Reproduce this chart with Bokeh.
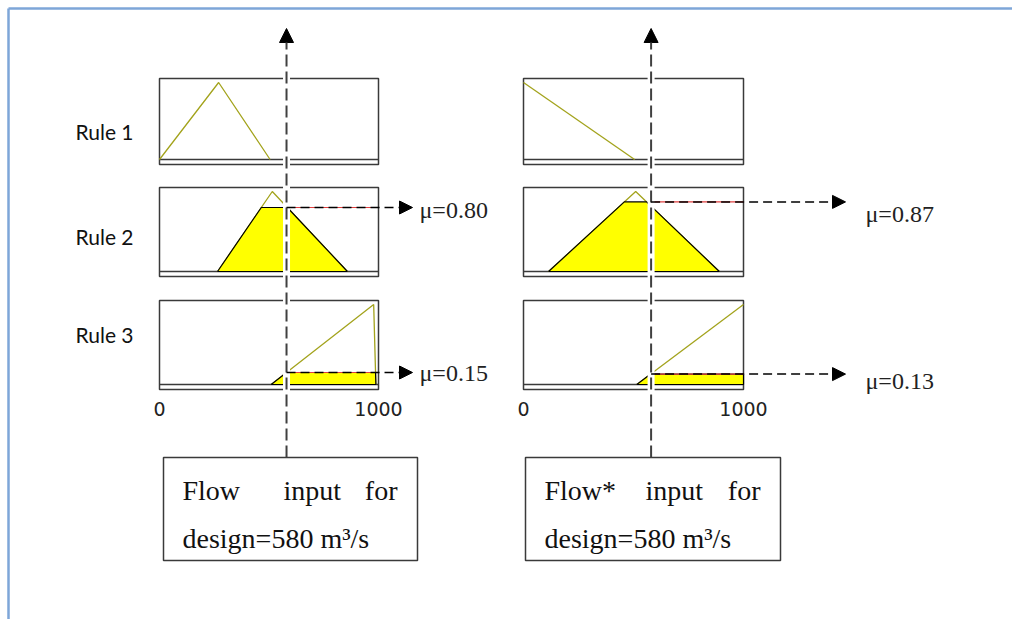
from bokeh.plotting import figure
from bokeh.models import Range1d, Arrow, NormalHead
from bokeh.core.properties import value
from bokeh.embed import file_html
from bokeh.resources import INLINE

# ---- data -------------------------------------------------------------
rule_names = ["Rule 1", "Rule 2", "Rule 3"]
input_flow = 580                      # m3/s, same crisp input for both variables
universe_ticks = [0, 1000]
tick_labels = ["0", "1000"]

# membership functions (breakpoints on the 0..1000 universe, degree)
flow_mf_x = [[0, 270, 505], [265, 515, 858], [510, 978, 988]]
flow_mf_y = [[0, 1, 0], [0, 1, 0], [0, 1, 0]]
flow_star_mf_x = [[0, 505], [114, 510, 890], [515, 1000]]
flow_star_mf_y = [[1, 0], [0, 1, 0], [0, 1]]

# firing degrees of the input for each rule (rule 1 does not fire)
flow_mu = [None, 0.80, 0.15]
flow_star_mu = [None, 0.87, 0.13]

box_caption_words = [["Flow", "input", "for"], ["Flow*", "input", "for"]]
box_caption_line2 = "design=580 m\u00b3/s"

# ---- layout -----------------------------------------------------------
W, H = 1012, 619
COLS = [(159, 378), (523, 743)]           # panel left/right edges (px)
ROW_TOP = [78, 187, 300]
ROW_BASE = [159, 271, 384]
ROW_BOTTOM = [164, 276, 389]
ONE_OFFSET = 4                             # degree 1 sits just under the top edge
ARROW_TIP = [412, 845]
MU_LABEL_X = [419, 865]
MU_LABEL_Y = [[None, 209, 372], [None, 213, 380]]
VARROW_TOP, VARROW_BOTTOM = 28, 457
BOXES = [(163, 417), (525, 780)]
BOX_TOP, BOX_BOTTOM = 457, 560

OLIVE = "#a3a31c"
EDGE = "#3a3a3a"

p = figure(width=W, height=H, x_range=Range1d(0, W), y_range=Range1d(H, 0),
           x_axis_type=None, y_axis_type=None, output_backend="svg",
           toolbar_location=None, min_border=0)
p.grid.visible = False
p.outline_line_color = None
p.background_fill_color = "white"

# one x range per column (universe 0..1000) and one y range per row (degree 0..1)
for c, (x0, x1) in enumerate(COLS):
    k = (x1 - x0) / 1000.0
    s = -x0 / k
    p.extra_x_ranges[f"u{c}"] = Range1d(s, s + W / k)
for r in range(3):
    base = ROW_BASE[r]
    k = base - (ROW_TOP[r] + ONE_OFFSET)
    p.extra_y_ranges[f"m{r}"] = Range1d((base - H) / k, base / k)


def px_to_u(c, px):
    x0, x1 = COLS[c]
    return (px - x0) / (x1 - x0) * 1000.0


def clip_polygon(xs, ys, level):
    """Polygon of min(mf, level) closed along degree 0."""
    px, py = [xs[0]], [0]
    for i in range(len(xs) - 1):
        xa, ya, xb, yb = xs[i], ys[i], xs[i + 1], ys[i + 1]
        px.append(xa); py.append(min(ya, level))
        if (ya - level) * (yb - level) < 0:
            px.append(xa + (level - ya) * (xb - xa) / (yb - ya)); py.append(level)
    px.append(xs[-1]); py.append(min(ys[-1], level))
    px.append(xs[-1]); py.append(0)
    return px, py


# outer frame
p.segment(x0=[8, 8], y0=[8, 8], x1=[8, W], y1=[H, 8], line_color="#7ea6d8", line_width=2.5)

# rule labels
p.text(x=[75] * 3, y=[131, 236, 334], text=rule_names, text_font=value("Lato"),
       text_font_size="21px", text_baseline="middle", text_color="#111111")

all_x = [flow_mf_x, flow_star_mf_x]
all_y = [flow_mf_y, flow_star_mf_y]
all_mu = [flow_mu, flow_star_mu]

for c, (x0, x1) in enumerate(COLS):
    xr = f"u{c}"
    for r in range(3):
        yr = f"m{r}"
        # panel frame and zero line
        p.quad(left=x0, right=x1, top=ROW_TOP[r], bottom=ROW_BOTTOM[r],
               fill_color="white", line_color=EDGE, line_width=1.5)
        p.segment(x0=x0, x1=x1, y0=ROW_BASE[r], y1=ROW_BASE[r], line_color=EDGE, line_width=1.5)
        xs, ys = all_x[c][r], all_y[c][r]
        p.line(xs, ys, x_range_name=xr, y_range_name=yr, line_color=OLIVE, line_width=1.3)
        mu = all_mu[c][r]
        if mu is not None:
            fx, fy = clip_polygon(xs, ys, mu)
            p.patch(fx, fy, x_range_name=xr, y_range_name=yr, fill_color="#ffff00",
                    line_color="black", line_width=1.2)
            p.line([input_flow, 1000], [mu, mu], x_range_name=xr, y_range_name=yr,
                   line_color="#e04040", line_width=1.2)

    # tick labels under the last row
    p.text(x=universe_ticks, y=[ROW_BOTTOM[2] + 19] * 2, text=tick_labels, x_range_name=xr,
           text_font=value("DejaVu Sans"), text_font_size="19px", text_align="center",
           text_baseline="middle", text_color="#222222")

    # vertical input marker
    p.segment(x0=input_flow, x1=input_flow, y0=VARROW_TOP + 14, y1=VARROW_BOTTOM,
              x_range_name=xr, line_color="white", line_width=7)
    p.add_layout(Arrow(end=NormalHead(size=14, fill_color="black", line_color="black", line_width=1),
                       x_start=input_flow, x_end=input_flow, y_start=VARROW_BOTTOM, y_end=VARROW_TOP,
                       x_range_name=xr, line_color="#404040", line_width=2, line_dash="12 5"))

    # horizontal degree arrows and labels
    for r in range(3):
        mu = all_mu[c][r]
        if mu is None:
            continue
        p.add_layout(Arrow(end=NormalHead(size=13, fill_color="black", line_color="black", line_width=1),
                           x_start=input_flow, x_end=px_to_u(c, ARROW_TIP[c]), y_start=mu, y_end=mu,
                           x_range_name=xr, y_range_name=f"m{r}",
                           line_color="black", line_width=1.5, line_dash="9 5"))
        p.text(x=[MU_LABEL_X[c]], y=[MU_LABEL_Y[c][r]], text=[f"\u03bc={mu:.2f}"],
               text_font=value("Liberation Serif"), text_font_size="24px",
               text_baseline="middle", text_color="#222222")

    # caption box
    bx0, bx1 = BOXES[c]
    p.quad(left=bx0, right=bx1, top=BOX_TOP, bottom=BOX_BOTTOM, fill_color="white",
           line_color=EDGE, line_width=1.5)
    words = box_caption_words[c]
    p.text(x=[bx0 + 19, bx0 + 120, bx1 - 20], y=[490] * 3, text=words,
           text_align=["left", "left", "right"], text_font=value("Liberation Serif"),
           text_font_size="28px", text_baseline="alphabetic", text_color="#111111")
    p.text(x=[bx0 + 19], y=[538], text=[box_caption_line2], text_font=value("Liberation Serif"),
           text_font_size="28px", text_baseline="alphabetic", text_color="#111111")

open("out.html", "w").write(file_html(p, INLINE))
